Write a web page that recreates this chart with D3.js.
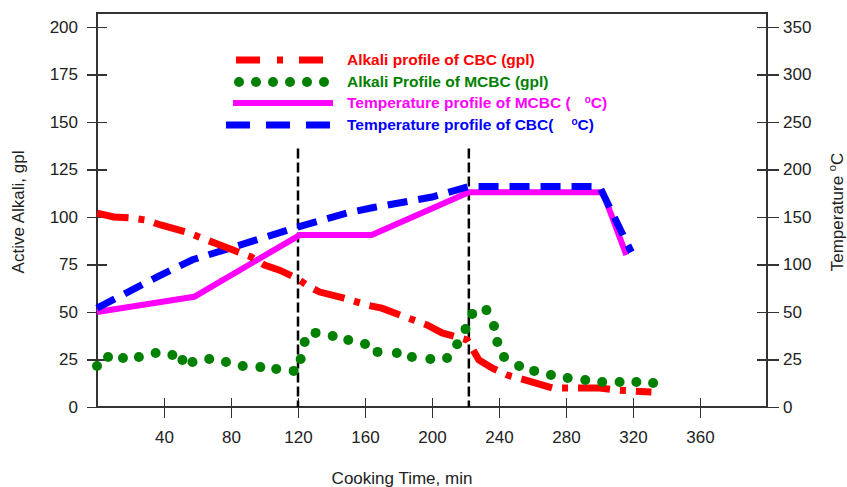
<!DOCTYPE html>
<head>
<meta charset="utf-8">
<title> Cooking profiles </title>
<script type="text/javascript" src="https://cdn.jsdelivr.net/npm/d3@7"></script>
<style>
body { margin: 0; background: #fff; }
svg { font-family: "Liberation Sans", Arial, sans-serif; }
.axis text { font-size: 17px; fill: #222; }
.axis line { fill: none; stroke: #333; stroke-width: 1.5; shape-rendering: crispEdges; }
.axis .domain { display: none; }
</style>
</head>

<body>
<script>
// CBC alkali (gpl)
var redTime   = [0, 10, 20, 29, 38, 55, 64, 75, 92, 100, 109, 119, 126, 133, 147, 161, 170, 181, 197, 206, 215, 221, 228, 236, 245, 262, 272, 300, 310, 331];
var redAlkali = [102, 100, 99.5, 98.4, 95.8, 91.6, 88.4, 84.7, 79, 74.7, 72, 67.9, 63.7, 60.5, 57.4, 53.7, 52, 48.4, 43.2, 39, 36.8, 35.3, 24.7, 20.5, 16.8, 12.6, 10, 10, 8.9, 7.9];

// MCBC alkali (gpl)
var greenTime   = [0, 6.6, 15.5, 25, 35, 45, 51, 57, 67, 77, 87, 97.5, 107, 117.4, 121.6, 124, 130.5, 140.7, 150, 160, 167.5, 179, 188, 199, 209, 215, 220, 224, 232.5, 237, 239, 243, 252, 261, 271, 281, 291.5, 301.6, 312, 322, 332];
var greenAlkali = [21.6, 26.3, 25.8, 26.3, 28.4, 27.4, 24.7, 23.7, 25.3, 23.7, 21.6, 21, 20, 19, 25.3, 34.2, 39, 37.4, 35.3, 33.2, 29, 28.4, 26.3, 25.3, 25.8, 33, 41, 49, 51, 42.6, 34.2, 26.3, 21.6, 19, 16.8, 15.3, 14.2, 13.2, 13.2, 13.2, 12.6];

// MCBC temperature (C)
var magTime = [0, 58, 121, 164, 222, 302, 316];
var magTemp = [50, 66, 131, 131, 176, 176, 110];

// CBC temperature (C)
var blueTime = [0, 36, 57, 79, 119, 149, 165, 200, 222, 300, 319];
var blueTemp = [54, 87, 105, 117, 139, 154, 160, 171, 182, 182, 113];

var phaseMarks = [120, 222];
var phaseTop = 136;

var xTicks = [40, 80, 120, 160, 200, 240, 280, 320, 360];
var leftTicks = [0, 25, 50, 75, 100, 125, 150, 175, 200];
var rightTicks = [0, 25, 50, 100, 150, 200, 250, 300, 350];

var legendLabels = ["Alkali profile of CBC (gpl)", "Alkali Profile of MCBC (gpl)", "Temperature profile of MCBC (", "Temperature profile of CBC("];
var legendColors = ["#ff0000", "#008000", "#ff00ff", "#0000ff"];

var width = 847, height = 487;
var pLeft = 97, pRight = 767, pTop = 13, pBottom = 407;

var svg = d3.select("body").append("svg")
	.attr("width", width)
	.attr("height", height);

var x = d3.scaleLinear().domain([0, 400]).range([pLeft, pRight]);
var yL = d3.scaleLinear().domain([0, 200]).range([pBottom, 27]);
// right axis labels sit on the left ticks, so the temperature scale is piecewise
var yR = d3.scaleLinear().domain(rightTicks).range(leftTicks.map(yL));

// plot frame
svg.append("rect")
	.attr("x", pLeft).attr("y", pTop)
	.attr("width", pRight - pLeft).attr("height", pBottom - pTop)
	.style("fill", "none").style("stroke", "#333").style("stroke-width", 1.5)
	.style("shape-rendering", "crispEdges");

var gx = svg.append("g").attr("class", "axis")
	.attr("transform", "translate(0," + pBottom + ")")
	.call(d3.axisBottom(x).tickValues(xTicks).tickSize(11).tickSizeOuter(0).tickPadding(13));
gx.selectAll(".tick line").attr("y1", -9);

var gl = svg.append("g").attr("class", "axis")
	.attr("transform", "translate(" + pLeft + ",0)")
	.call(d3.axisLeft(yL).tickValues(leftTicks).tickSize(10).tickSizeOuter(0).tickPadding(9));
gl.selectAll(".tick line").attr("x1", 10);

var gr = svg.append("g").attr("class", "axis")
	.attr("transform", "translate(" + pRight + ",0)")
	.call(d3.axisRight(yR).tickValues(rightTicks).tickSize(12).tickSizeOuter(0).tickPadding(4));
gr.selectAll(".tick line").attr("x1", -10);

// axis titles
svg.append("text")
	.attr("x", 402).attr("y", 484)
	.attr("text-anchor", "middle")
	.style("font-size", "17px").style("fill", "#222")
	.text("Cooking Time, min");

svg.append("text")
	.attr("transform", "translate(24,212) rotate(-90)")
	.attr("text-anchor", "middle")
	.style("font-size", "17px").style("fill", "#222")
	.text("Active Alkali, gpl");

var rt = svg.append("text")
	.attr("transform", "translate(843,212) rotate(-90)")
	.attr("text-anchor", "middle")
	.style("font-size", "17px").style("fill", "#222");
rt.append("tspan").text("Temperature ");
rt.append("tspan").attr("dy", -7).style("font-size", "11px").text("o");
rt.append("tspan").attr("dy", 7).text("C");

// phase markers
svg.selectAll(".phase")
	.data(phaseMarks)
	.enter().append("line")
	.attr("x1", function(d) { return x(d); })
	.attr("x2", function(d) { return x(d); })
	.attr("y1", yL(phaseTop))
	.attr("y2", pBottom)
	.style("stroke", "#000")
	.style("stroke-width", 2.5)
	.style("stroke-dasharray", "10,4");

function series(times, vals) {
	return times.map(function(t, i) { return [t, vals[i]]; });
}

var lineL = d3.line().x(function(d) { return x(d[0]); }).y(function(d) { return yL(d[1]); });
var lineR = d3.line().x(function(d) { return x(d[0]); }).y(function(d) { return yR(d[1]); });

svg.append("path")
	.datum(series(magTime, magTemp))
	.attr("d", lineR)
	.style("fill", "none").style("stroke", legendColors[2]).style("stroke-width", 6)
	.style("stroke-linejoin", "round");

svg.append("path")
	.datum(series(blueTime, blueTemp))
	.attr("d", lineR)
	.style("fill", "none").style("stroke", legendColors[3]).style("stroke-width", 7)
	.style("stroke-dasharray", "20,11");

svg.append("path")
	.datum(series(redTime, redAlkali))
	.attr("d", lineL)
	.style("fill", "none").style("stroke", legendColors[0]).style("stroke-width", 7)
	.style("stroke-dasharray", "32,10,6,10");

svg.selectAll(".gdot")
	.data(series(greenTime, greenAlkali))
	.enter().append("circle")
	.attr("cx", function(d) { return x(d[0]); })
	.attr("cy", function(d) { return yL(d[1]); })
	.attr("r", 5)
	.style("fill", legendColors[1]);

// legend
var lg = svg.append("g");
var rowY = [60, 82, 103, 125];

lg.append("line").attr("x1", 236).attr("x2", 323).attr("y1", rowY[0]).attr("y2", rowY[0])
	.style("stroke", legendColors[0]).style("stroke-width", 7).style("stroke-dasharray", "24,17,6,16");
lg.selectAll(".ldot").data(d3.range(6)).enter().append("circle")
	.attr("cx", function(d) { return 239 + d * 17; })
	.attr("cy", rowY[1]).attr("r", 5)
	.style("fill", legendColors[1]);
lg.append("line").attr("x1", 233).attr("x2", 333).attr("y1", rowY[2]).attr("y2", rowY[2])
	.style("stroke", legendColors[2]).style("stroke-width", 6);
lg.append("line").attr("x1", 226).attr("x2", 330).attr("y1", rowY[3]).attr("y2", rowY[3])
	.style("stroke", legendColors[3]).style("stroke-width", 7).style("stroke-dasharray", "24,16");

legendLabels.forEach(function(lab, i) {
	var t = lg.append("text")
		.attr("x", 347).attr("y", rowY[i] + 5)
		.style("font-size", "15.5px").style("font-weight", "bold")
		.style("fill", legendColors[i]);
	t.append("tspan").text(lab);
	if (i >= 2) {
		t.append("tspan").attr("dx", i == 2 ? 14 : 18).attr("dy", -5).style("font-size", "10px").text("o");
		t.append("tspan").attr("dy", 5).text("C)");
	}
});
</script>
</body>
